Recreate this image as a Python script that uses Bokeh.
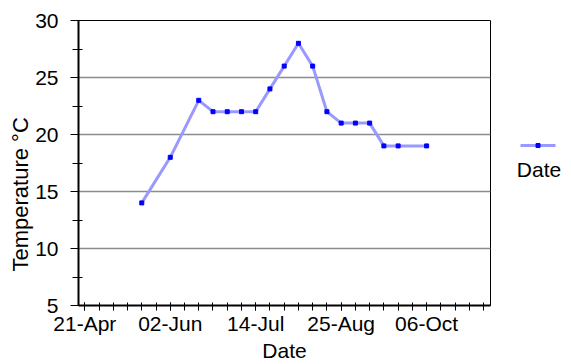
from datetime import datetime, timedelta
from bokeh.plotting import figure
from bokeh.layouts import row
from bokeh.models import Range1d, FixedTicker, DatetimeTickFormatter, Title
from bokeh.core.properties import value
from bokeh.embed import file_html
from bokeh.resources import INLINE

# ---- data ----
dates = ["2008-05-19", "2008-06-02", "2008-06-16", "2008-06-23", "2008-06-30", "2008-07-07",
         "2008-07-14", "2008-07-21", "2008-07-28", "2008-08-04", "2008-08-11", "2008-08-18",
         "2008-08-25", "2008-09-01", "2008-09-08", "2008-09-15", "2008-09-22", "2008-10-06"]
temps = [14, 18, 23, 22, 22, 22, 22, 24, 26, 28, 26, 22, 21, 21, 21, 19, 19, 19]
y_ticks = [5, 10, 15, 20, 25, 30]
x_tick_dates = ["2008-04-21", "2008-06-02", "2008-07-14", "2008-08-25", "2008-10-06"]
series_name = "Date"
y_title = "Temperature °C"

x = [datetime.strptime(d, "%Y-%m-%d") for d in dates]
x_major = [datetime.strptime(d, "%Y-%m-%d") for d in x_tick_dates]
start = x_major[0]

def ms(d):
    return (d - datetime(1970, 1, 1)).total_seconds() * 1000.0

FONT = "Liberation Sans"
LINE_C = "#9999ff"
MARK_C = "#0000ff"

p = figure(width=492, height=364, x_axis_type="datetime", output_backend="svg",
           toolbar_location=None,
           x_range=Range1d(start - timedelta(days=3.1), start + timedelta(days=199.4)),
           y_range=Range1d(5, 30),
           min_border_left=78, min_border_right=2, min_border_top=20, min_border_bottom=58)
p.background_fill_color = "white"
p.border_fill_color = "white"
p.outline_line_color = "black"
p.outline_line_width = 1

p.line(x, temps, line_color=LINE_C, line_width=3)
p.scatter(x, temps, marker="square", size=4, fill_color=MARK_C, line_color=MARK_C)

# x axis
minor = [ms(start + timedelta(days=7 * i)) for i in range(0, 29)]
p.xaxis.ticker = FixedTicker(ticks=[ms(d) for d in x_major], minor_ticks=minor)
fmt = "%d-%b"
p.xaxis.formatter = DatetimeTickFormatter(milliseconds=fmt, seconds=fmt, minsec=fmt, minutes=fmt,
                                          hourmin=fmt, hours=fmt, days=fmt, months=fmt, years=fmt)
p.xaxis.axis_label = "Date"
p.xaxis.major_tick_in = 3
p.xaxis.major_tick_out = 5
p.xaxis.minor_tick_in = 3
p.xaxis.minor_tick_out = 5
p.xaxis.axis_line_width = 2

# y axis
p.yaxis.ticker = FixedTicker(ticks=y_ticks, minor_ticks=[7.5, 12.5, 17.5, 22.5, 27.5])
p.yaxis.major_tick_in = 0
p.yaxis.major_tick_out = 8
p.yaxis.minor_tick_in = 4
p.yaxis.minor_tick_out = 6
p.yaxis.axis_line_width = 2

for ax in (p.xaxis, p.yaxis):
    ax.axis_line_color = "black"
    ax.major_tick_line_color = "black"
    ax.minor_tick_line_color = "black"
    ax.major_label_text_font = FONT
    ax.major_label_text_font_size = "21px"
    ax.major_label_text_color = "black"
    ax.axis_label_text_font = FONT
    ax.axis_label_text_font_size = "21px"
    ax.axis_label_text_font_style = "normal"
    ax.axis_label_text_color = "black"
p.xaxis.major_label_standoff = 1
p.xaxis.axis_label_standoff = 1
p.yaxis.major_label_standoff = 12

# y title placed lower than frame centre, as in the reference
p.add_layout(Title(text=y_title, align="left", offset=34, text_font=FONT,
                   text_font_size="22px", text_font_style="normal", text_color="black",
                   standoff=0), "left")

p.xgrid.grid_line_color = None
p.ygrid.grid_line_color = "#8c8c8c"
p.ygrid.grid_line_width = 1.5

# legend panel (sample above, series name below)
lg = figure(frame_width=79, frame_height=364, output_backend="svg", toolbar_location=None,
            title=None, x_range=Range1d(0, 79), y_range=Range1d(0, 364),
            x_axis_location=None, y_axis_location=None,
            min_border=0, outline_line_color=None)
lg.grid.visible = False
lg.line([28, 63], [239, 239], line_color=LINE_C, line_width=3)
lg.scatter([45.5], [239], marker="square", size=4, fill_color=MARK_C, line_color=MARK_C)
lg.text([46.5], [215], text=[series_name], text_align="center", text_baseline="middle",
        text_font=value(FONT), text_font_size="21px", text_color="black")

layout = row(p, lg, spacing=0)
open("out.html", "w").write(file_html(layout, INLINE))
